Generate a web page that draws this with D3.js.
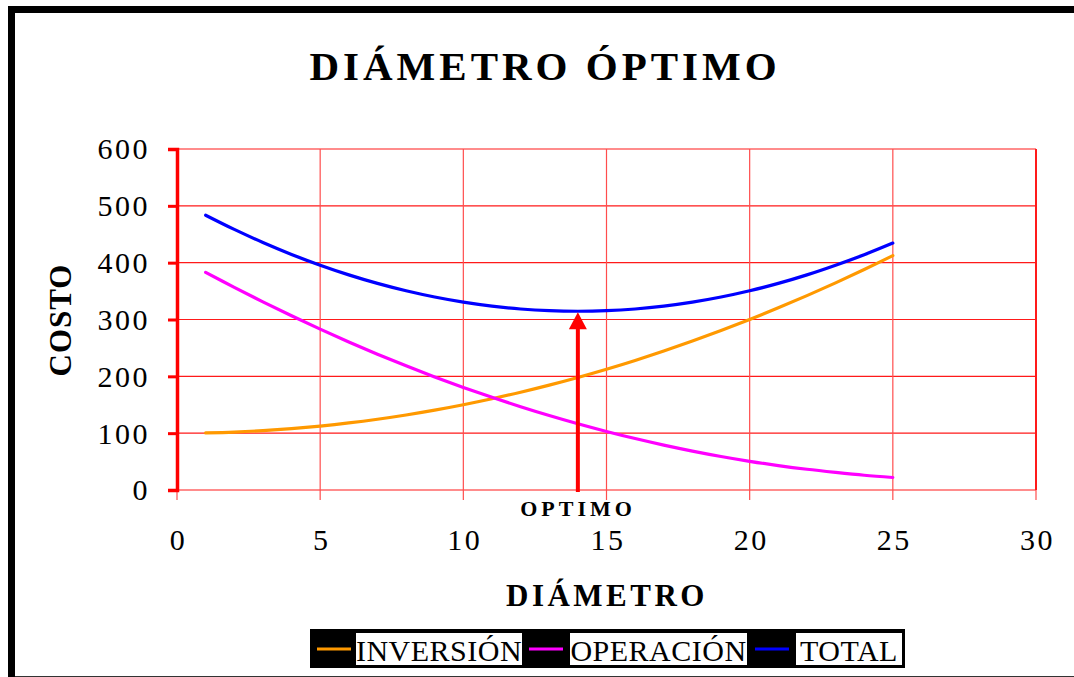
<!DOCTYPE html>
<html>
<head>
<meta charset="utf-8">
<script src="https://cdn.jsdelivr.net/npm/d3@7"></script>
<style>
  html, body { margin: 0; padding: 0; background: #fff; }
  svg { display: block; }
  text { font-family: "Liberation Serif", "Times New Roman", serif; fill: #000; }
</style>
</head>
<body>
<svg id="chart" width="1074" height="677"></svg>
<script>
// ---- data ----
const diametro = [1,2,3,4,5,6,7,8,9,10,11,12,13,14,15,16,17,18,19,20,21,22,23,24,25];
const inversion = [100.5,102,104.5,108,112.5,118,124.5,132,140.5,150,160.5,172,184.5,198,212.5,228,244.5,262,280.5,300,320.5,342,364.5,388,412.5];
const operacion = [383,356.5,331,306.5,283,260.5,239,218.5,199,180.5,163,146.5,131,116.5,103,90.5,79,68.5,59,50.5,43,36.5,31,26,22];
const total = [483.5,458.5,435.5,414.5,395.5,378.5,363.5,350.5,339.5,330.5,323.5,318.5,315.5,314.5,315.5,318.5,323.5,330.5,339.5,350.5,363.5,378.5,395.5,414,434.5];
const xTicks = [0,5,10,15,20,25,30];
const yTicks = [0,100,200,300,400,500,600];
const optimoX = 14;
const seriesNames = ["INVERSIÓN","OPERACIÓN","TOTAL"];
const seriesColors = ["#FF9900","#FF00FF","#0000FF"];
const titleText = "DIÁMETRO ÓPTIMO";
const xTitle = "DIÁMETRO";
const yTitle = "COSTO";
const optimoLabel = "OPTIMO";

const svg = d3.select("#chart");

// frame
svg.append("rect").attr("x",8).attr("y",6).attr("width",1066).attr("height",7).attr("fill","#000");
svg.append("rect").attr("x",8).attr("y",6).attr("width",7).attr("height",671).attr("fill","#000");
svg.append("line").attr("x1",15).attr("x2",1074).attr("y1",676.5).attr("y2",676.5).attr("stroke","#333").attr("stroke-width",1);

const x = d3.scaleLinear().domain([0,30]).range([177,1036]);
const y = d3.scaleLinear().domain([0,600]).range([490,149]);

// title
svg.append("text").attr("x",545).attr("y",80).attr("text-anchor","middle")
  .style("font-size","41px").style("font-weight","bold").style("letter-spacing","4px")
  .text(titleText);

// gridlines
const grid = svg.append("g");
grid.selectAll("line.h").data(yTicks).enter().append("line")
  .attr("x1",x(0)).attr("x2",x(30)).attr("y1",d=>y(d)).attr("y2",d=>y(d))
  .attr("stroke","#ff1a1a").attr("stroke-width",1.2);
grid.selectAll("line.v").data(xTicks).enter().append("line")
  .attr("x1",d=>x(d)).attr("x2",d=>x(d)).attr("y1",y(600)).attr("y2",y(0)+10)
  .attr("stroke","#ff4d4d").attr("stroke-width",1.2);
grid.append("line").attr("x1",x(30)).attr("x2",x(30)).attr("y1",y(600)).attr("y2",y(0))
  .attr("stroke","#ff1a1a").attr("stroke-width",2);

// y axis
const yAxis = svg.append("g").attr("transform",`translate(${x(0)},0)`)
  .call(d3.axisLeft(y).tickValues(yTicks).tickSize(9).tickPadding(18).tickFormat(d3.format("d")));
yAxis.attr("font-family",null);
yAxis.select(".domain").attr("stroke","#ff0000").attr("stroke-width",3.5);
yAxis.selectAll(".tick line").attr("stroke","#ff0000").attr("stroke-width",3);
yAxis.selectAll(".tick text").style("font-size","30px").style("letter-spacing","2.5px")
  .attr("fill","#000").attr("dy","0.33em");

// x axis labels
const xAxis = svg.append("g").attr("transform",`translate(0,${y(0)})`)
  .call(d3.axisBottom(x).tickValues(xTicks).tickSize(0).tickPadding(0).tickFormat(d3.format("d")));
xAxis.attr("font-family",null);
xAxis.select(".domain").remove();
xAxis.selectAll(".tick text").style("font-size","30px").style("letter-spacing","2.5px")
  .attr("fill","#000").attr("y",60).attr("dy",0).attr("dx","1px");

// axis titles
svg.append("text").attr("x",607).attr("y",606).attr("text-anchor","middle")
  .style("font-size","31px").style("font-weight","bold").style("letter-spacing","3.5px")
  .text(xTitle);
svg.append("text").attr("transform","translate(71,320) rotate(-90)").attr("text-anchor","middle")
  .style("font-size","31px").style("font-weight","bold").style("letter-spacing","1px")
  .text(yTitle);

// series lines
const seriesData = [inversion, operacion, total];
const line = d3.line().x((d,i)=>x(diametro[i])).y(d=>y(d)).curve(d3.curveCatmullRom.alpha(0.5));
seriesData.forEach((s,k)=>{
  svg.append("path").datum(s).attr("d",line).attr("fill","none")
    .attr("stroke",seriesColors[k]).attr("stroke-width",3.2).attr("stroke-linecap","round");
});

// optimum arrow
const optIdx = diametro.indexOf(optimoX);
const tipY = y(total[optIdx]) + 1;
const ax = x(optimoX);
svg.append("line").attr("x1",ax).attr("x2",ax).attr("y1",y(0)+2).attr("y2",tipY+14)
  .attr("stroke","#ff0000").attr("stroke-width",4);
svg.append("path").attr("d",`M${ax},${tipY} L${ax-9},${tipY+17} L${ax+9},${tipY+17} Z`).attr("fill","#ff0000");
svg.append("text").attr("x",578).attr("y",516).attr("text-anchor","middle")
  .style("font-size","22px").style("font-weight","bold").style("letter-spacing","4px")
  .text(optimoLabel);

// legend
const lg = svg.append("g");
lg.append("rect").attr("x",310).attr("y",629).attr("width",595).attr("height",39).attr("fill","#000");
const legendItems = [
  {lineX:317, boxX:356, boxW:166},
  {lineX:529, boxX:570, boxW:177},
  {lineX:755, boxX:796, boxW:106}
];
legendItems.forEach((it,k)=>{
  lg.append("line").attr("x1",it.lineX).attr("x2",it.lineX+34).attr("y1",649).attr("y2",649)
    .attr("stroke",seriesColors[k]).attr("stroke-width",3.2);
  lg.append("rect").attr("x",it.boxX).attr("y",633).attr("width",it.boxW).attr("height",32).attr("fill","#fff");
  lg.append("text").attr("x",it.boxX+it.boxW/2).attr("y",661).attr("text-anchor","middle")
    .style("font-size","30px").style("letter-spacing","0.5px").text(seriesNames[k]);
});
</script>
</body>
</html>
